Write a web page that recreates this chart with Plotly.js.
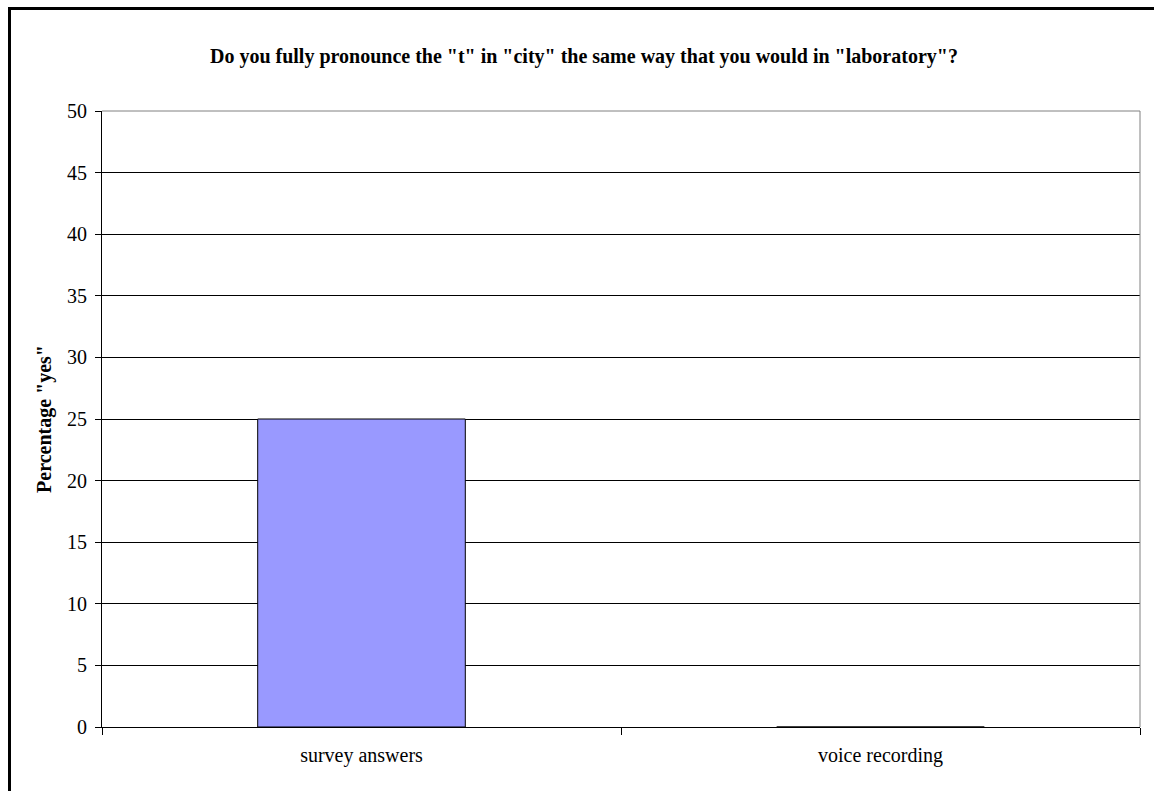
<!DOCTYPE html>
<html>
<head>
<meta charset="utf-8">
<script src="https://cdn.plot.ly/plotly-3.0.1.min.js"></script>
<style>
  html, body { margin: 0; padding: 0; background: #ffffff; }
  #wrap { position: relative; width: 1154px; height: 791px; overflow: hidden; }
  #chart { position: absolute; left: 0; top: 0; width: 1154px; height: 791px; }
  /* chart-area frame along the left and top edges */
  #frame { position: absolute; left: 8px; top: 7px; width: 1200px; height: 900px;
           border-left: 3px solid #000; border-top: 3px solid #000; pointer-events: none; }
</style>
</head>
<body>
<div id="wrap">
  <div id="chart"></div>
  <div id="frame"></div>
</div>
<script>
// Survey question and the share answering "yes"
const chartTitle = 'Do you fully pronounce the "t" in "city" the same way that you would in "laboratory"?';
const yTitle = 'Percentage "yes"';
const categories = ['survey answers', 'voice recording'];
const percentYes = [25, 0];
const yTickValues = [0, 5, 10, 15, 20, 25, 30, 35, 40, 45, 50];

const serif = '"Liberation Serif", "Times New Roman", Times, serif';

const trace = {
  type: 'bar',
  x: categories,
  y: percentYes,
  width: 0.4,
  marker: { color: '#9999FF', line: { color: '#000000', width: 1 } },
  hoverinfo: 'skip'
};

const layout = {
  width: 1154,
  height: 791,
  margin: { l: 102, r: 14, t: 111, b: 64 },
  paper_bgcolor: '#ffffff',
  plot_bgcolor: '#ffffff',
  showlegend: false,
  font: { family: serif, color: '#000000', size: 20 },
  title: {
    text: '<b>' + chartTitle + '</b>',
    font: { family: serif, size: 20, color: '#000000' },
    xref: 'container', yref: 'container',
    x: 0.506, xanchor: 'center',
    y: 1 - 56 / 791, yanchor: 'middle'
  },
  xaxis: {
    type: 'category',
    showgrid: false,
    showline: true, linecolor: '#000000', linewidth: 1,
    ticks: 'outside', tickson: 'boundaries', ticklen: 7, tickcolor: '#000000', tickwidth: 1,
    ticklabelstandoff: 10,
    tickfont: { family: serif, size: 20, color: '#000000' },
    zeroline: false
  },
  yaxis: {
    range: [0, 50],
    tickvals: yTickValues,
    ticktext: yTickValues.map(String),
    showgrid: true, gridcolor: '#000000', gridwidth: 1,
    zeroline: true, zerolinecolor: '#000000', zerolinewidth: 1,
    showline: true, linecolor: '#000000', linewidth: 1,
    ticks: 'outside', ticklen: 6, tickcolor: '#000000', tickwidth: 1,
    ticklabelstandoff: 4,
    tickfont: { family: serif, size: 20, color: '#000000' },
    title: {
      text: '<b>' + yTitle + '</b>',
      font: { family: serif, size: 20, color: '#000000' },
      standoff: 10
    }
  },
  shapes: [
    // grey plot-area border on the top and right sides
    { type: 'line', xref: 'paper', yref: 'paper', x0: 0, x1: 1, y0: 1, y1: 1,
      line: { color: '#808080', width: 1 }, layer: 'above' },
    { type: 'line', xref: 'paper', yref: 'paper', x0: 1, x1: 1, y0: 0, y1: 1,
      line: { color: '#808080', width: 1 }, layer: 'above' }
  ],
  bargap: 0.6
};

Plotly.newPlot('chart', [trace], layout, { displayModeBar: false, staticPlot: true });
</script>
</body>
</html>
